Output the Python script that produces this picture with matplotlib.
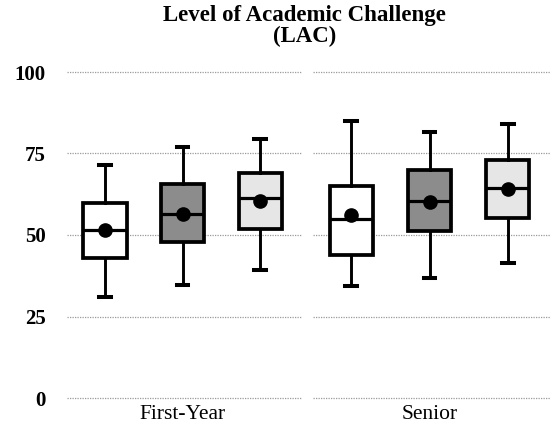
import matplotlib
matplotlib.use("Agg")
import matplotlib.pyplot as plt

# group labels and box statistics
groups = ["First-Year", "Senior"]
fills = ["white", "#8c8c8c", "#e6e6e6"]

fy_lo = [31.0, 34.7, 39.2]
fy_q1 = [42.8, 47.7, 51.8]
fy_med = [51.5, 56.3, 61.2]
fy_q3 = [59.8, 65.7, 69.1]
fy_hi = [71.4, 77.0, 79.5]
fy_mean = [51.5, 56.3, 60.3]

sr_lo = [34.4, 36.9, 41.5]
sr_q1 = [43.8, 51.1, 55.1]
sr_med = [54.9, 60.3, 64.3]
sr_q3 = [64.9, 69.8, 73.1]
sr_hi = [85.1, 81.7, 84.0]
sr_mean = [56.0, 60.0, 64.0]

yticks = [0, 25, 50, 75, 100]

serif = "Liberation Serif"


def make_stats(lo, q1, med, q3, hi, mean):
    return [dict(whislo=a, q1=b, med=c, q3=d, whishi=e, mean=f, fliers=[])
            for a, b, c, d, e, f in zip(lo, q1, med, q3, hi, mean)]


all_stats = [
    make_stats(fy_lo, fy_q1, fy_med, fy_q3, fy_hi, fy_mean),
    make_stats(sr_lo, sr_q1, sr_med, sr_q3, sr_hi, sr_mean),
]

W, H = 553, 429
fig = plt.figure(figsize=(W / 100, H / 100), dpi=100)
bottom = 1 - 398 / H
height = (398 - 72) / H
ax1 = fig.add_axes([67 / W, bottom, (302 - 67) / W, height])
ax2 = fig.add_axes([313 / W, bottom, (550 - 313) / W, height])

for ax, stats, name in zip([ax1, ax2], all_stats, groups):
    # dotted grid lines, one segment per group
    for y in yticks:
        ax.axhline(y, color="#9a9a9a", lw=0.9, ls=(0, (1, 1)), zorder=0, clip_on=False)
    bp = ax.bxp(stats, positions=[1, 2, 3], widths=0.555, showmeans=True,
                patch_artist=True, showfliers=False,
                boxprops=dict(edgecolor="black", linewidth=2.7),
                medianprops=dict(color="black", linewidth=2.3),
                whiskerprops=dict(color="black", linewidth=2.1),
                capprops=dict(color="black", linewidth=2.9),
                meanprops=dict(marker="o", markerfacecolor="black",
                               markeredgecolor="black", markersize=9.5))
    for patch, fc in zip(bp["boxes"], fills):
        patch.set_facecolor(fc)
    for cap in bp["caps"]:
        x = cap.get_xdata()
        c = (x[0] + x[1]) / 2
        cap.set_xdata([c - 0.075, c + 0.075])
    ax.set_ylim(0, 100)
    ax.set_xlim(0.51, 3.54)
    ax.set_xticks([2])
    ax.set_xticklabels([name], fontsize=15.5, fontfamily=serif)
    ax.tick_params(axis="both", length=0, pad=5)
    for s in ax.spines.values():
        s.set_visible(False)

ax1.set_yticks(yticks)
ax1.set_yticklabels([str(v) for v in yticks], fontsize=15, fontweight="bold",
                    fontfamily=serif)
ax1.tick_params(axis="y", pad=15.5)
ax2.set_yticks([])

fig.text(0.55, 1 - 16 / H, "Level of Academic Challenge", ha="center", va="center",
         fontsize=16.5, fontweight="bold", fontfamily=serif)
fig.text(0.55, 1 - 36 / H, "(LAC)", ha="center", va="center",
         fontsize=16.5, fontweight="bold", fontfamily=serif)

fig.savefig("out.png", dpi=100)
